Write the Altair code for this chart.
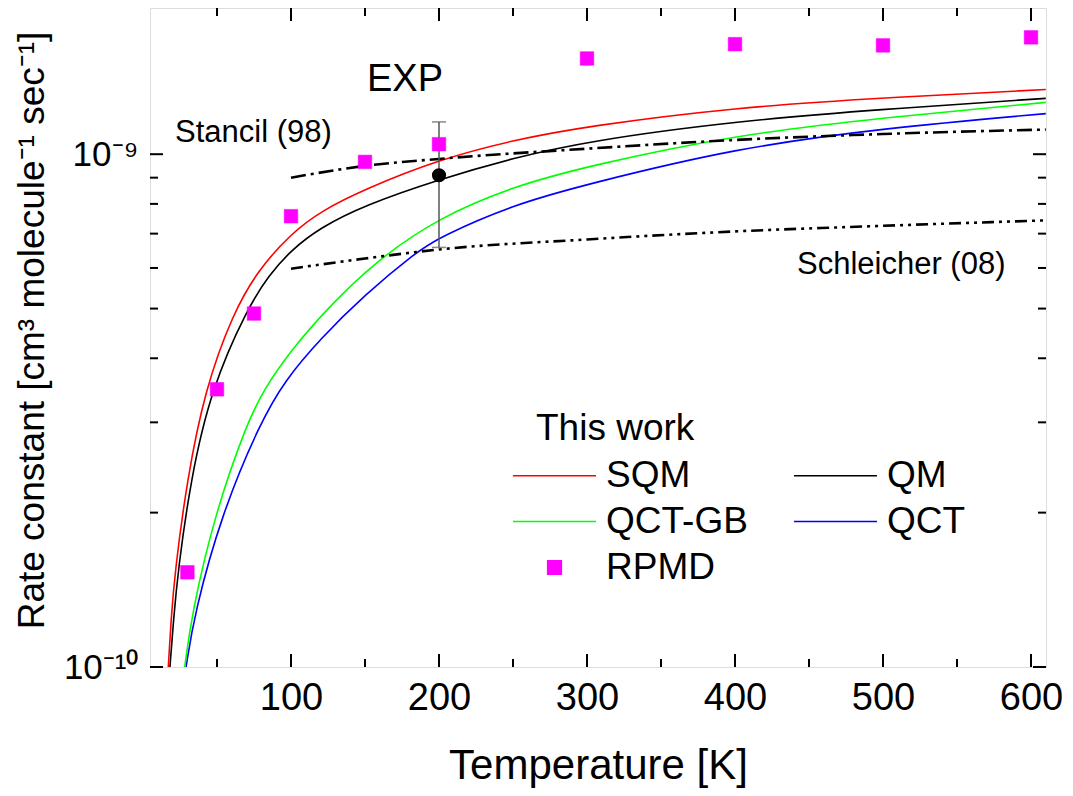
import altair as alt
import pandas as pd

FONT = "Liberation Sans"

# ---------------- data ----------------
sqm_T = [17.1, 18.9, 21.6, 29.7, 41.9, 60.8, 77.7, 100, 120, 149.5, 199.8, 250, 300, 400, 500, 610]
sqm_k = [1.0e-10, 1.234e-10, 1.537e-10, 2.313e-10, 3.479e-10, 4.896e-10, 5.94e-10,
         7.0e-10, 7.74e-10, 8.54e-10, 9.76e-10, 1.065e-9, 1.134e-9, 1.234e-9, 1.288e-9, 1.337e-9]

qm_T = [18.2, 20.6, 23.6, 32.1, 45.9, 70.9, 85, 100, 120, 149.5, 199.8, 250, 300, 400, 500, 610]
qm_k = [1.0e-10, 1.234e-10, 1.537e-10, 2.313e-10, 3.479e-10, 5.03e-10, 5.8e-10, 6.5e-10,
        7.2e-10, 7.95e-10, 8.93e-10, 9.83e-10, 1.06e-9, 1.16e-9, 1.224e-9, 1.285e-9]

qctgb_T = [28.2, 32.9, 48.6, 70.3, 81.3, 100, 125, 157.9, 199.8, 250, 300, 400, 500, 610]
qctgb_k = [1.0e-10, 1.271e-10, 1.992e-10, 2.991e-10, 3.464e-10, 4.147e-10, 5.02e-10,
           6.21e-10, 7.52e-10, 8.65e-10, 9.475e-10, 1.091e-9, 1.178e-9, 1.262e-9]

qct_T = [29.1, 34.7, 53.2, 79.1, 95.9, 120, 149.5, 184.9, 199.8, 250, 300, 400, 500, 610]
qct_k = [1.0e-10, 1.271e-10, 1.992e-10, 2.991e-10, 3.624e-10, 4.37e-10, 5.31e-10, 6.45e-10,
         6.88e-10, 7.97e-10, 8.74e-10, 1.027e-9, 1.124e-9, 1.2e-9]

rpmd_T = [30, 50, 75, 100, 150, 200, 300, 400, 500, 600]
rpmd_k = [1.53e-10, 3.48e-10, 4.89e-10, 7.57e-10, 9.66e-10, 1.046e-9,
          1.537e-9, 1.639e-9, 1.63e-9, 1.69e-9]

stancil_T = [100, 150, 200, 300, 400, 500, 610]
stancil_k = [9.0e-10, 9.49e-10, 9.79e-10, 1.025e-9, 1.066e-9, 1.095e-9, 1.117e-9]

schleicher_T = [100, 150, 200, 300, 400, 500, 610]
schleicher_k = [5.98e-10, 6.26e-10, 6.52e-10, 6.82e-10, 7.07e-10, 7.25e-10, 7.43e-10]

exp_T = [200]
exp_k = [9.1e-10]
exp_lo = [6.58e-10]
exp_hi = [1.156e-9]

series_names = ["SQM", "QM", "QCT-GB", "QCT", "RPMD"]
series_colors = ["#ff0000", "#000000", "#00ff00", "#0000ff", "#ff00ff"]
LINE_KEY = "M-6.1,0H6.1"
series_shapes = [LINE_KEY, LINE_KEY, LINE_KEY, LINE_KEY, "square"]

x_major = [100, 200, 300, 400, 500, 600]
x_minor = [50, 150, 250, 350, 450, 550]
y_major = [1e-10, 1e-9]
y_minor = [2e-10, 3e-10, 4e-10, 5e-10, 6e-10, 7e-10, 8e-10, 9e-10]

annot_text = ["EXP", "Stancil (98)", "Schleicher (08)"]
annot_T = [177, 21.6, 441.9]
annot_k = [1.394e-9, 1.099e-9, 6.07e-10]

# ---------------- layout ----------------
W, H = 896, 659
XDOM = [4.73, 610.14]
YDOM = [1e-10, 1.928e-9]

xs = alt.Scale(domain=XDOM, nice=False, zero=False)
ys = alt.Scale(type="log", domain=YDOM, nice=False)

X = alt.X("T:Q", scale=xs,
          axis=alt.Axis(values=x_major, ticks=False, tickSize=0, domain=False, grid=False,
                        labelFontSize=38, labelFont=FONT, labelColor="black",
                        labelPadding=12, format="d",
                        title="Temperature [K]", titleFontSize=42, titleFont=FONT,
                        titleFontWeight="normal", titleColor="black",
                        titleX=448, titleY=98, titleBaseline="middle", titleAlign="center"))
Y = alt.Y("k:Q", scale=ys,
          axis=alt.Axis(values=y_major, ticks=False, tickSize=0, domain=False, grid=False,
                        labelFontSize=35, labelFont=FONT, labelColor="black",
                        labelPadding=12,
                        labelExpr="datum.value < 5e-10 ? '10\u207b\u00b9\u2070' : '10\u207b\u2079'",
                        title="Rate constant [cm\u00b3 molecule\u207b\u00b9 sec\u207b\u00b9]",
                        titleFontSize=37, titleFont=FONT, titleFontWeight="normal",
                        titleColor="black", titleAngle=270,
                        titleX=-118, titleY=322, titleBaseline="middle", titleAlign="center"))

base_axes = alt.Chart(pd.DataFrame({"T": [XDOM[0]], "k": [YDOM[0]]})).mark_point(
    opacity=0).encode(x=X, y=Y)


def xticks(length, vals, top):
    d = pd.DataFrame({"T": vals})
    y0 = 0 if top else H
    y1 = length if top else H - length
    return alt.Chart(d).mark_rule(color="black", strokeWidth=2).encode(
        x=alt.X("T:Q", scale=xs), y=alt.value(y0), y2=alt.value(y1))


def yticks(length, vals, right):
    d = pd.DataFrame({"k": vals})
    x0 = W if right else 0
    x1 = W - length if right else length
    return alt.Chart(d).mark_rule(color="black", strokeWidth=2).encode(
        y=alt.Y("k:Q", scale=ys), x=alt.value(x0), x2=alt.value(x1))


ticks = [xticks(13, x_major, False), xticks(8, x_minor, False),
         xticks(13, x_major, True), xticks(8, x_minor, True),
         yticks(13, y_major, False), yticks(8, y_minor, False),
         yticks(13, y_major, True), yticks(8, y_minor, True)]


def curve(T, K, color):
    return alt.Chart(pd.DataFrame({"T": T, "k": K})).mark_line(
        clip=True, strokeWidth=1.6, interpolate="basis", color=color).encode(
        x=alt.X("T:Q", scale=xs), y=alt.Y("k:Q", scale=ys))


lines = [curve(qct_T, qct_k, series_colors[3]),
         curve(qctgb_T, qctgb_k, series_colors[2]),
         curve(qm_T, qm_k, series_colors[1]),
         curve(sqm_T, sqm_k, series_colors[0])]

stancil = alt.Chart(pd.DataFrame({"T": stancil_T, "k": stancil_k})).mark_line(
    color="black", strokeWidth=2.6, strokeDash=[15, 5, 3, 5], interpolate="monotone").encode(
    x=alt.X("T:Q", scale=xs), y=alt.Y("k:Q", scale=ys))

schleicher = alt.Chart(pd.DataFrame({"T": schleicher_T, "k": schleicher_k})).mark_line(
    color="black", strokeWidth=2.6, strokeDash=[12, 5, 3, 5, 3, 5], interpolate="monotone").encode(
    x=alt.X("T:Q", scale=xs), y=alt.Y("k:Q", scale=ys))

exp_df = pd.DataFrame({"T": exp_T, "k": exp_k, "lo": exp_lo, "hi": exp_hi})
err = alt.Chart(exp_df).mark_rule(color="#555555", strokeWidth=1.5).encode(
    x=alt.X("T:Q", scale=xs), y=alt.Y("lo:Q", scale=ys), y2="hi:Q")
cap_lo = alt.Chart(exp_df).mark_tick(color="#555555", thickness=1.5, size=14,
                                     orient="horizontal").encode(
    x=alt.X("T:Q", scale=xs), y=alt.Y("lo:Q", scale=ys))
cap_hi = alt.Chart(exp_df).mark_tick(color="#555555", thickness=1.5, size=14,
                                     orient="horizontal").encode(
    x=alt.X("T:Q", scale=xs), y=alt.Y("hi:Q", scale=ys))
exp_pt = alt.Chart(exp_df).mark_circle(color="black", size=200, opacity=1).encode(
    x=alt.X("T:Q", scale=xs), y=alt.Y("k:Q", scale=ys))

annot = pd.DataFrame({"text": annot_text, "T": annot_T, "k": annot_k})
exp_txt = alt.Chart(annot.iloc[[0]]).mark_text(
    font=FONT, fontSize=38, color="black", align="center", baseline="middle").encode(
    x=alt.X("T:Q", scale=xs), y=alt.Y("k:Q", scale=ys), text="text:N")
other_txt = alt.Chart(annot.iloc[[1, 2]]).mark_text(
    font=FONT, fontSize=31, color="black", align="left", baseline="middle").encode(
    x=alt.X("T:Q", scale=xs), y=alt.Y("k:Q", scale=ys), text="text:N")

# RPMD points carry the legend (scale domain lists all five entries)
leg = alt.Legend(title="This work", orient="none", legendX=386, legendY=403,
                 direction="horizontal", columns=2, columnPadding=42, rowPadding=8,
                 padding=0,
                 labelFontSize=37, labelFont=FONT, labelColor="black", labelOffset=33,
                 titleFontSize=37, titleFont=FONT, titleFontWeight="normal",
                 titleColor="black", titlePadding=9,
                 symbolStrokeWidth=1.6, symbolOpacity=1, symbolSize=185)
rpmd_df = pd.DataFrame({"T": rpmd_T, "k": rpmd_k, "series": ["RPMD"] * len(rpmd_T)})
rpmd = alt.Chart(rpmd_df).mark_point(filled=True, opacity=1, size=185, strokeWidth=0.5).encode(
    x=alt.X("T:Q", scale=xs), y=alt.Y("k:Q", scale=ys),
    fill=alt.Fill("series:N", scale=alt.Scale(domain=series_names, range=series_colors),
                  legend=leg),
    stroke=alt.Stroke("series:N", scale=alt.Scale(domain=series_names, range=series_colors),
                      legend=leg),
    shape=alt.Shape("series:N", scale=alt.Scale(domain=series_names, range=series_shapes),
                    legend=leg))

chart = alt.layer(base_axes, *ticks, *lines, schleicher, stancil, err, cap_lo, cap_hi,
                  exp_pt, rpmd, exp_txt, other_txt).properties(
    width=W, height=H,
    autosize=alt.AutoSizeParams(type="none"),
    padding={"left": 142, "top": 0, "right": 19, "bottom": 121},
).configure_view(stroke="black", strokeWidth=2).configure(background="white")

chart.save("out.html", embed_options={"renderer": "svg", "actions": False})
